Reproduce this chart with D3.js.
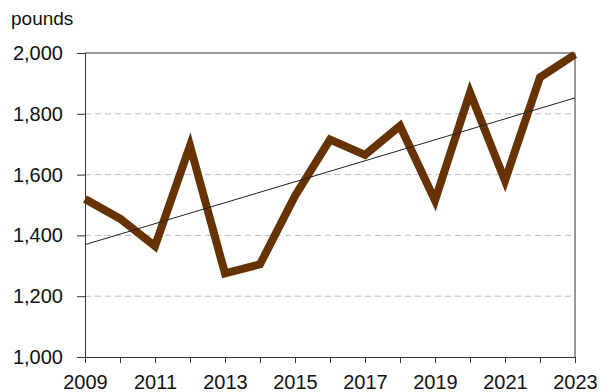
<!DOCTYPE html>
<html>
<head>
<meta charset="utf-8">
<script src="https://cdn.jsdelivr.net/npm/d3@7"></script>
<style>
  html, body { margin: 0; padding: 0; background: #fff; }
  svg { display: block; font-family: "Liberation Sans", Arial, sans-serif; }
</style>
</head>
<body>
<svg id="chart" width="601" height="392"></svg>
<script>
// Annual values, pounds
const years = [2009, 2010, 2011, 2012, 2013, 2014, 2015, 2016, 2017, 2018, 2019, 2020, 2021, 2022, 2023];
const values = [1520, 1455, 1365, 1695, 1275, 1305, 1530, 1715, 1665, 1760, 1515, 1870, 1580, 1920, 1995];
const yTicks = [1000, 1200, 1400, 1600, 1800, 2000];
const xLabelYears = [2009, 2011, 2013, 2015, 2017, 2019, 2021, 2023];
const unitLabel = "pounds";

const svg = d3.select("#chart");
const margin = { left: 85, right: 26, top: 53, bottom: 35 };
const W = 601, H = 392;
const FONT = "'Liberation Sans', Arial, sans-serif";

const x = d3.scaleLinear().domain([2009, 2023]).range([margin.left, W - margin.right]);
const y = d3.scaleLinear().domain([1000, 2000]).range([H - margin.bottom, margin.top]);

// dashed horizontal gridlines
svg.append("g")
  .selectAll("line")
  .data(yTicks.filter(v => v > 1000 && v < 2000))
  .join("line")
  .attr("x1", x(2009)).attr("x2", x(2023))
  .attr("y1", d => y(d)).attr("y2", d => y(d))
  .attr("stroke", "#bdbdbd")
  .attr("stroke-width", 1)
  .attr("stroke-dasharray", "6,4");

// plot frame (top and right)
svg.append("path")
  .attr("d", `M${x(2009)},${y(2000)}H${x(2023)}V${y(1000)}`)
  .attr("fill", "none")
  .attr("stroke", "#333")
  .attr("stroke-width", 1);

// y axis
const yAxis = d3.axisLeft(y).tickValues(yTicks).tickFormat(d3.format(",")).tickSize(8).tickPadding(14);
const gy = svg.append("g").attr("transform", `translate(${x(2009)},0)`).call(yAxis);
gy.select(".domain").attr("stroke", "#333");
gy.selectAll(".tick line").attr("stroke", "#333");
gy.selectAll(".tick text").attr("font-size", 20).attr("fill", "#111").attr("font-family", FONT);

// x axis: tick every year, label every other year
const xAxis = d3.axisBottom(x).tickValues(years)
  .tickFormat(d => xLabelYears.includes(d) ? String(d) : "")
  .tickSize(6).tickPadding(12);
const gx = svg.append("g").attr("transform", `translate(0,${y(1000)})`).call(xAxis);
gx.select(".domain").attr("stroke", "#333");
gx.selectAll(".tick line").attr("stroke", "#333");
gx.selectAll(".tick text").attr("font-size", 20).attr("fill", "#111").attr("font-family", FONT);

// data line
svg.append("path")
  .datum(years.map((yr, i) => [yr, values[i]]))
  .attr("fill", "none")
  .attr("stroke", "#663300")
  .attr("stroke-width", 8)
  .attr("stroke-linejoin", "miter")
  .attr("d", d3.line().x(d => x(d[0])).y(d => y(d[1])));

// least-squares trend line
const mx = d3.mean(years), my = d3.mean(values);
const slope = d3.sum(years, (yr, i) => (yr - mx) * (values[i] - my)) / d3.sum(years, yr => (yr - mx) ** 2);
const trend = yr => my + slope * (yr - mx);
svg.append("line")
  .attr("x1", x(2009)).attr("y1", y(trend(2009)))
  .attr("x2", x(2023)).attr("y2", y(trend(2023)))
  .attr("stroke", "#222")
  .attr("stroke-width", 1);

// unit label
svg.append("text")
  .attr("x", 11).attr("y", 25)
  .attr("font-size", 19)
  .attr("fill", "#111")
  .attr("font-family", FONT)
  .text(unitLabel);
</script>
</body>
</html>
